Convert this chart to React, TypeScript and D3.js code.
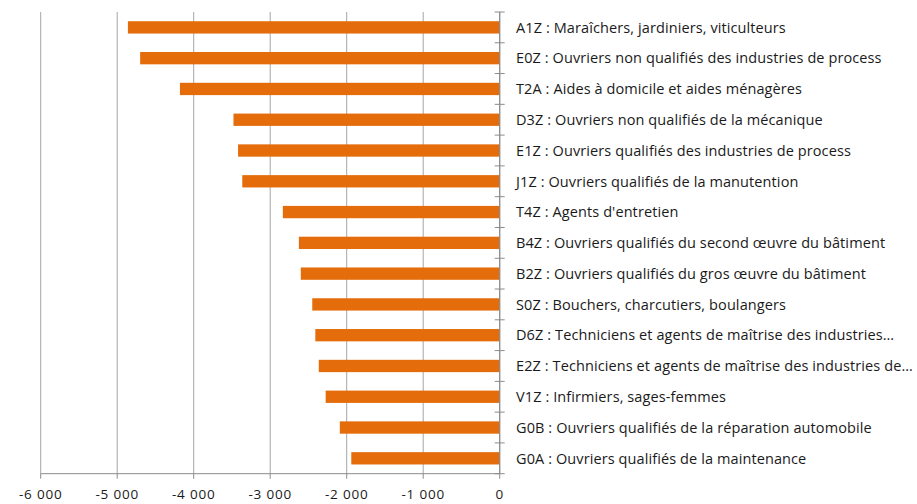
import React from "react";
import * as d3 from "d3";

const categories: string[] = [
  "A1Z : Maraîchers, jardiniers, viticulteurs",
  "E0Z : Ouvriers non qualifiés des industries de process",
  "T2A : Aides à domicile et aides ménagères",
  "D3Z : Ouvriers non qualifiés de la mécanique",
  "E1Z : Ouvriers qualifiés des industries de process",
  "J1Z : Ouvriers qualifiés de la manutention",
  "T4Z : Agents d'entretien",
  "B4Z : Ouvriers qualifiés du second œuvre du bâtiment",
  "B2Z : Ouvriers qualifiés du gros œuvre du bâtiment",
  "S0Z : Bouchers, charcutiers, boulangers",
  "D6Z : Techniciens et agents de maîtrise des industries…",
  "E2Z : Techniciens et agents de maîtrise des industries de…",
  "V1Z : Infirmiers, sages-femmes",
  "G0B : Ouvriers qualifiés de la réparation automobile",
  "G0A : Ouvriers qualifiés de la maintenance",
];

const values: number[] = [
  -4860, -4700, -4180, -3480, -3420, -3365, -2835, -2625, -2600, -2450, -2410, -2365, -2275, -2090, -1940,
];

const xTicks: number[] = [-6000, -5000, -4000, -3000, -2000, -1000, 0];

const fmt = (v: number) => {
  if (v === 0) return "0";
  const s = Math.abs(v).toString();
  const withSpace = s.replace(/\B(?=(\d{3})+(?!\d))/g, " ");
  return (v < 0 ? "-" : "") + withSpace;
};

export default function App() {
  const W = 917;
  const H = 504;
  const left = 40.7;
  const right = 499.7;
  const top = 12;
  const bottom = 473.7;

  const x = d3.scaleLinear().domain([-6000, 0]).range([left, right]);
  const y = d3
    .scaleBand<string>()
    .domain(categories)
    .range([top, bottom])
    .paddingInner(0.6)
    .paddingOuter(0.3);
  const step = (bottom - top) / categories.length;

  const font = "'Open Sans', sans-serif";

  return (
    <svg
      width={W}
      height={H}
      style={{ position: "absolute", left: 0, top: 0, background: "#fff" }}
      fontFamily={font}
    >
      {xTicks.map((t) => (
        <line
          key={"g" + t}
          x1={x(t)}
          x2={x(t)}
          y1={top}
          y2={bottom}
          stroke="#a6a6a6"
          strokeWidth={1}
        />
      ))}
      {categories.map((c, i) => (
        <rect
          key={c}
          x={x(values[i])}
          y={y(c)!}
          width={x(0) - x(values[i])}
          height={y.bandwidth()}
          fill="#E46C0A"
        />
      ))}
      <line x1={left} x2={right} y1={bottom} y2={bottom} stroke="#8c8c8c" strokeWidth={1} />
      {xTicks.map((t) => (
        <g key={"t" + t}>
          <line x1={x(t)} x2={x(t)} y1={bottom} y2={bottom + 5} stroke="#8c8c8c" />
          <text
            x={x(t)}
            y={499}
            textAnchor="middle"
            fontSize={13.5}
            letterSpacing={0.8}
            fill="#1a1a1a"
          >
            {fmt(t)}
          </text>
        </g>
      ))}
      <line x1={x(0)} x2={x(0)} y1={top} y2={bottom} stroke="#8c8c8c" strokeWidth={1.2} />
      {d3.range(categories.length + 1).map((i) => (
        <line
          key={"yt" + i}
          x1={x(0) - 5}
          x2={x(0) + 5}
          y1={top + i * step}
          y2={top + i * step}
          stroke="#8c8c8c"
        />
      ))}
      {categories.map((c) => (
        <text
          key={"l" + c}
          x={516}
          y={y(c)! + y.bandwidth() / 2}
          dy="0.36em"
          fontSize={14.5}
          letterSpacing={0.1}
          fill="#1a1a1a"
        >
          {c}
        </text>
      ))}
    </svg>
  );
}
